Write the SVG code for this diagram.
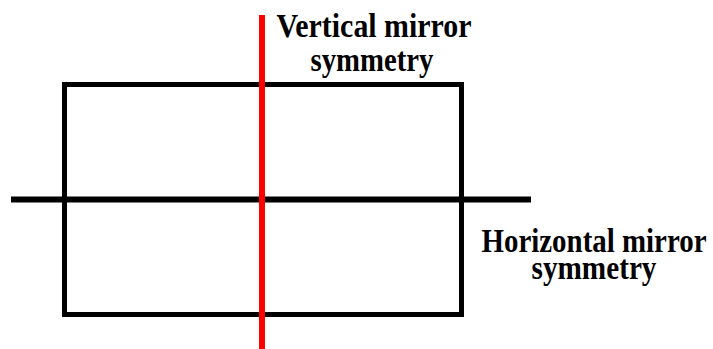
<svg xmlns="http://www.w3.org/2000/svg" width="713" height="349" viewBox="0 0 713 349">
<style>
.lbl{font-family:"Liberation Serif","Times New Roman",serif;font-weight:bold;font-size:34px;fill:#000;text-anchor:middle}
</style>
<rect width="713" height="349" fill="#fff"/>
<g id="rectangle"><rect x="64.5" y="84.5" width="397" height="230" fill="none" stroke="#000" stroke-width="5"/></g>
<g id="connectors">
<line x1="11" y1="199.5" x2="531" y2="199.5" stroke="#000" stroke-width="6"/>
<line x1="262" y1="15" x2="262" y2="349" stroke="#f00" stroke-width="6"/>
</g>
<g id="vertical-label">
<text class="lbl" x="374" y="36.5" textLength="195" lengthAdjust="spacingAndGlyphs">Vertical mirror</text>
<text class="lbl" x="372" y="71" textLength="123" lengthAdjust="spacingAndGlyphs">symmetry</text>
</g>
<g id="horizontal-label">
<text class="lbl" x="594" y="251.5" textLength="225" lengthAdjust="spacingAndGlyphs">Horizontal mirror</text>
<text class="lbl" x="594" y="278.5" textLength="125" lengthAdjust="spacingAndGlyphs">symmetry</text>
</g>
</svg>
